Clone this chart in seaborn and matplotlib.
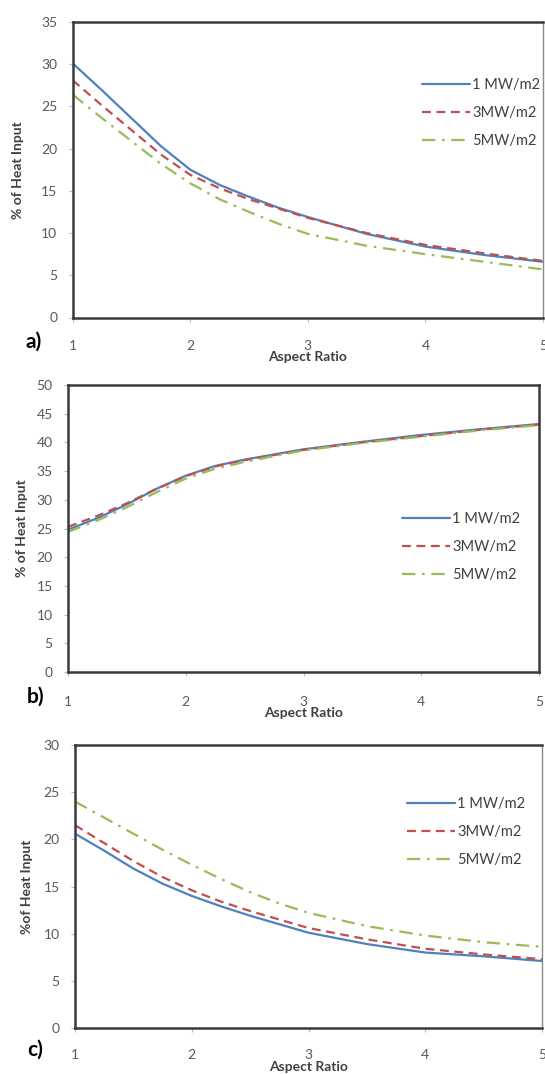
import numpy as np
import pandas as pd
import matplotlib
matplotlib.use("Agg")
import matplotlib.pyplot as plt
import seaborn as sns

# ---------------- data ----------------
aspect_ratio = [1.0, 1.25, 1.5, 1.75, 2.0, 2.25, 2.5, 2.75, 3.0, 3.5, 4.0, 4.5, 5.0]
series_names = ["1 MW/m2", "3MW/m2", "5MW/m2"]

a_1mw = [30.1, 26.9, 23.6, 20.3, 17.5, 15.7, 14.3, 13.0, 11.9, 9.9, 8.4, 7.4, 6.6]
a_3mw = [28.1, 25.1, 22.2, 19.3, 16.9, 15.3, 14.0, 12.9, 11.8, 10.0, 8.6, 7.6, 6.7]
a_5mw = [26.4, 23.6, 20.9, 18.2, 15.9, 14.0, 12.5, 11.1, 9.9, 8.5, 7.5, 6.6, 5.7]

b_1mw = [24.8, 26.8, 29.2, 31.9, 34.2, 35.9, 37.0, 37.9, 38.8, 40.1, 41.3, 42.3, 43.2]
b_3mw = [25.3, 27.2, 29.4, 31.9, 34.1, 35.8, 36.9, 37.8, 38.7, 40.0, 41.1, 42.2, 43.1]
b_5mw = [24.4, 26.4, 28.7, 31.3, 33.7, 35.4, 36.6, 37.6, 38.6, 39.9, 41.0, 42.1, 43.0]

c_1mw = [20.6, 18.8, 16.9, 15.3, 14.0, 12.9, 11.9, 11.0, 10.1, 8.9, 8.0, 7.6, 7.1]
c_3mw = [21.5, 19.6, 17.7, 16.0, 14.6, 13.4, 12.4, 11.5, 10.6, 9.4, 8.4, 7.8, 7.3]
c_5mw = [24.0, 22.3, 20.6, 18.9, 17.3, 15.8, 14.4, 13.2, 12.2, 10.8, 9.8, 9.1, 8.6]

panel_letters = ["a)", "b)", "c)"]
y_labels = ["% of Heat Input", "% of Heat Input", "%of Heat Input"]
x_label = "Aspect Ratio"
y_limits = [(0, 35), (0, 50), (0, 30)]
x_ticks = [1, 2, 3, 4, 5]

panels = [
    [a_1mw, a_3mw, a_5mw],
    [b_1mw, b_3mw, b_5mw],
    [c_1mw, c_3mw, c_5mw],
]

# ---------------- style ----------------
sns.set_theme(style="white")
plt.rcParams["font.family"] = ["Lato", "DejaVu Sans"]

colors = {"1 MW/m2": "#4F81BD", "3MW/m2": "#C0504D", "5MW/m2": "#9BBB59"}
dashes = {"1 MW/m2": "", "3MW/m2": (4, 2.5), "5MW/m2": (6, 3, 1.2, 3)}

W, H = 545, 1074
fig = plt.figure(figsize=(W / 100, H / 100), dpi=100)

# axes boxes in pixels: (left, top, right, bottom)
boxes = [(72.7, 22, 543, 317.5), (68, 385, 539, 672), (75, 745, 542, 1028)]
legend_pos = [(0.742, 0.692), (0.709, 0.436), (0.711, 0.693)]
xlabel_y = [357, 713, 1067]
ticklabel_y = [343, 699, 1052]
letter_pos = [(25, 342), (27, 697), (27, 1050)]
ylabel_x = [18, 22, 27]

for i, (l, t, r, b) in enumerate(boxes):
    ax = fig.add_axes([l / W, 1 - b / H, (r - l) / W, (b - t) / H])
    vals = panels[i]
    df = pd.DataFrame({
        "Aspect Ratio": aspect_ratio * 3,
        "value": vals[0] + vals[1] + vals[2],
        "series": sum([[n] * len(aspect_ratio) for n in series_names], []),
    })
    sns.lineplot(data=df, x="Aspect Ratio", y="value", hue="series",
                 style="series", palette=colors, dashes=dashes,
                 hue_order=series_names, style_order=series_names,
                 linewidth=1.6, ax=ax, legend=True)
    for ln in ax.get_lines():
        ln.set_solid_joinstyle("round")
        ln.set_dash_joinstyle("round")
    ax.set_xlim(1, 5)
    ax.set_ylim(*y_limits[i])
    ax.set_xticks(x_ticks)
    ax.set_yticks(np.arange(y_limits[i][0], y_limits[i][1] + 0.1, 5))

    for s in ["top", "left", "bottom", "right"]:
        ax.spines[s].set_color("#3a3a3a")
        ax.spines[s].set_linewidth(1.8)
    if i != 1:
        ax.spines["right"].set_color("#8a8a8a")
        ax.spines["right"].set_linewidth(1.0)

    hpx = b - t
    pad_x = (ticklabel_y[i] - b) * 72 / 100 - 5
    ax.tick_params(axis="x", which="both", bottom=True, length=3, width=0.8,
                   color="#bbbbbb", pad=pad_x, labelsize=10, labelcolor="#595959")
    ax.tick_params(axis="y", which="both", left=True, length=3, width=0.8,
                   color="#bbbbbb", pad=8, labelsize=10, labelcolor="#595959")

    ax.set_xlabel(x_label, fontsize=10, fontweight="bold", color="#404040")
    ax.xaxis.label.set_va("center")
    ax.xaxis.set_label_coords(0.5, (b - xlabel_y[i]) / hpx)

    ax.set_ylabel(y_labels[i], fontsize=10, fontweight="bold", color="#404040")
    ax.yaxis.label.set_va("center")
    ax.yaxis.set_label_coords((ylabel_x[i] - l) / (r - l), 0.5)

    lx, ly = letter_pos[i]
    fig.text(lx / W, 1 - ly / H, panel_letters[i], fontsize=15,
             fontweight="bold", color="black", ha="left", va="center")

    leg = ax.legend(loc="center left", bbox_to_anchor=legend_pos[i],
                    frameon=False, fontsize=10.5, handlelength=3.3,
                    handletextpad=0.15, labelspacing=0.95,
                    borderpad=0, borderaxespad=0)
    for txt in leg.get_texts():
        txt.set_color("#404040")

fig.savefig("out.png", dpi=100)
